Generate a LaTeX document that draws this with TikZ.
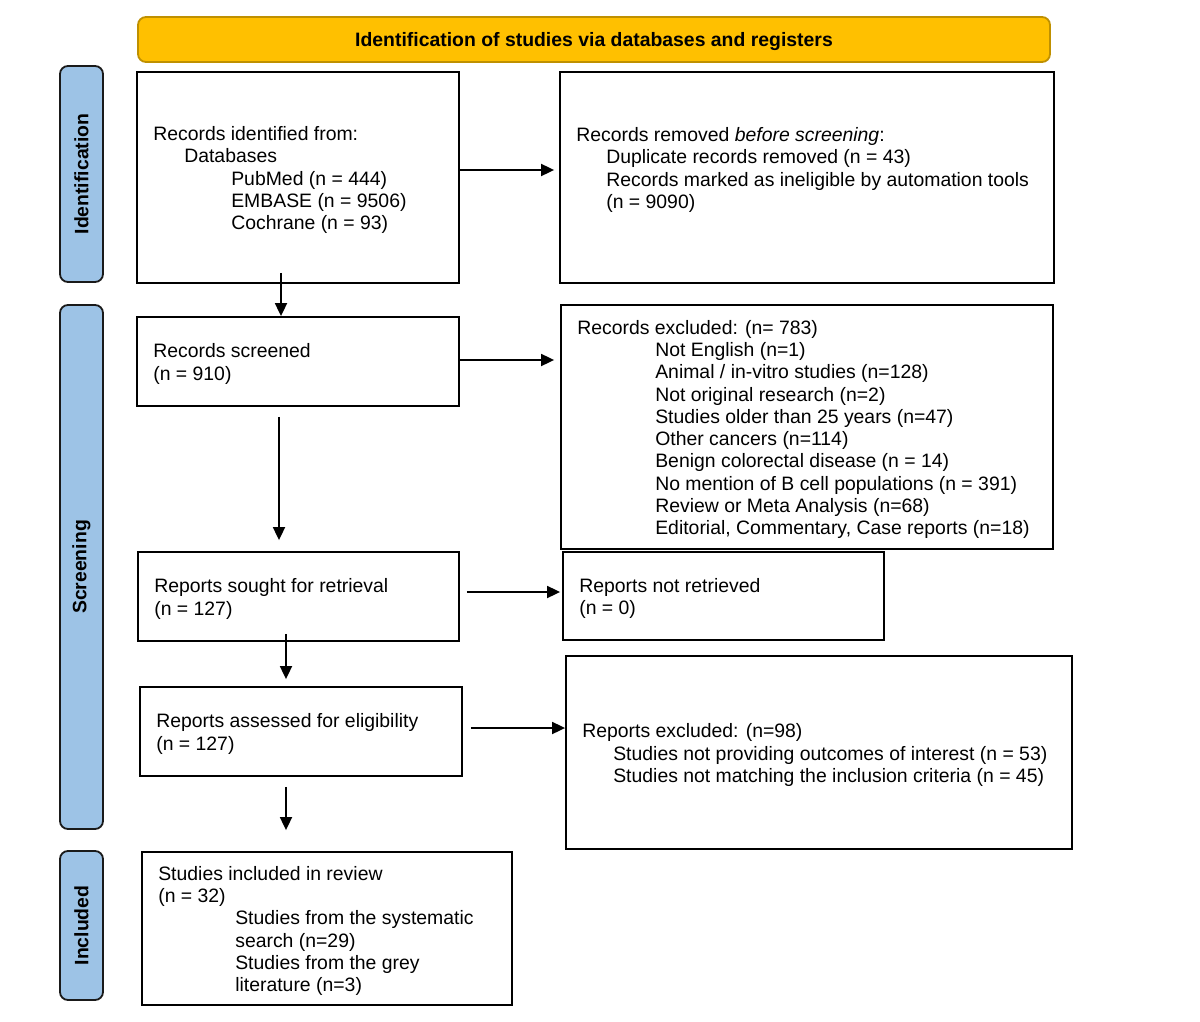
\documentclass[tikz,border=0pt]{standalone}
\usepackage{fontspec}
\setmainfont{Liberation Sans}
\usetikzlibrary{arrows.meta}
\definecolor{bannerfill}{HTML}{FFC000}
\definecolor{bannerdraw}{HTML}{BF9000}
\definecolor{sidefill}{HTML}{9DC3E6}
\definecolor{sidedraw}{HTML}{1A1A1A}
\begin{document}
\begin{tikzpicture}[x=1pt,y=-1pt,
  every node/.style={font=\fontsize{19.4}{22.3}\selectfont},
  box/.style={draw=black,line width=1.8pt,fill=white,inner sep=0pt},
  txt/.style={anchor=west,align=left,inner sep=0pt,yshift=-2.5pt},
  banner/.style={draw=bannerdraw,fill=bannerfill,line width=1.8pt,rounded corners=8pt,inner sep=0pt},
  bantext/.style={inner sep=0pt,font=\fontsize{19.4}{22.3}\selectfont\bfseries},
  side/.style={draw=sidedraw,fill=sidefill,line width=1.8pt,rounded corners=8pt,inner sep=0pt,rotate=90,font=\fontsize{19.4}{22.3}\selectfont\bfseries},
  arr/.style={line width=1.8pt,-{Triangle[length=13pt,width=12pt]}}
]
\useasboundingbox (0,0) rectangle (1200,1022);

% banner
\node[banner,minimum width=912pt,minimum height=45pt] (ban) at (594,39.5) {};
\node[bantext] (bant) at ([yshift=-2.5pt]ban.center) {Identification of studies via databases and registers};

% side bars
\node[side,minimum width=216pt,minimum height=43pt] (sid1) at (81.5,174) {Identification};
\node[side,minimum width=524pt,minimum height=43pt] (sid2) at (81.5,567) {Screening};
\node[side,minimum width=149pt,minimum height=43pt] (sid3) at (81.5,925.5) {Included};

% boxes
\node[box,minimum width=322pt,minimum height=211pt] (b1) at (298,177.5) {};
\node[box,minimum width=494pt,minimum height=211pt] (b2) at (807,177.5) {};
\node[box,minimum width=322pt,minimum height=89pt] (b3) at (298,361.5) {};
\node[box,minimum width=492pt,minimum height=244pt] (b4) at (807,427) {};
\node[box,minimum width=321pt,minimum height=89pt] (b5) at (298.5,596.5) {};
\node[box,minimum width=321pt,minimum height=88pt] (b6) at (723.5,596) {};
\node[box,minimum width=322pt,minimum height=89pt] (b7) at (301,731.5) {};
\node[box,minimum width=506pt,minimum height=193pt] (b8) at (819,752.5) {};
\node[box,minimum width=370pt,minimum height=153pt] (b9) at (327,928.5) {};

% texts
\node[txt] (t1) at ([xshift=17pt]b1.west) {Records identified from:\\
\hspace*{31pt}Databases\\
\hspace*{78pt}PubMed (n = 444)\\
\hspace*{78pt}EMBASE (n = 9506)\\
\hspace*{78pt}Cochrane (n = 93)};

\node[txt] (t2) at ([xshift=17pt,yshift=10pt]b2.west) {Records removed \textit{before screening}:\\
\hspace*{30pt}Duplicate records removed (n = 43)\\
\hspace*{30pt}Records marked as ineligible by automation tools\\
\hspace*{30pt}(n = 9090)};

\node[txt] (t3) at ([xshift=17pt]b3.west) {Records screened\\(n = 910)};

\node[txt] (t4) at ([xshift=17pt]b4.west) {Records excluded: (n= 783)\\
\hspace*{78pt}Not English (n=1)\\
\hspace*{78pt}Animal / in-vitro studies (n=128)\\
\hspace*{78pt}Not original research (n=2)\\
\hspace*{78pt}Studies older than 25 years (n=47)\\
\hspace*{78pt}Other cancers (n=114)\\
\hspace*{78pt}Benign colorectal disease (n = 14)\\
\hspace*{78pt}No mention of B cell populations (n = 391)\\
\hspace*{78pt}Review or Meta Analysis (n=68)\\
\hspace*{78pt}Editorial, Commentary, Case reports (n=18)};

\node[txt] (t5) at ([xshift=17pt]b5.west) {Reports sought for retrieval\\(n = 127)};
\node[txt] (t6) at ([xshift=17pt]b6.west) {Reports not retrieved\\(n = 0)};
\node[txt] (t7) at ([xshift=17pt]b7.west) {Reports assessed for eligibility\\(n = 127)};

\node[txt] (t8) at ([xshift=17pt]b8.west) {Reports excluded: (n=98)\\
\hspace*{31pt}Studies not providing outcomes of interest (n = 53)\\
\hspace*{31pt}Studies not matching the inclusion criteria (n = 45)};

\node[txt] (t9) at ([xshift=17pt]b9.west) {Studies included in review\\
(n = 32)\\
\hspace*{77pt}Studies from the systematic\\
\hspace*{77pt}search (n=29)\\
\hspace*{77pt}Studies from the grey\\
\hspace*{77pt}literature (n=3)};

% horizontal arrows
\draw[arr,shorten >=5pt] ([yshift=7.5pt]b1.east) -- ([yshift=7.5pt]b1.east -| b2.west);
\draw[arr,shorten >=6pt] ([yshift=1.5pt]b3.east) -- ([yshift=1.5pt]b3.east -| b4.west);
\draw[arr,shorten <=7pt,shorten >=2pt] ([yshift=4.5pt]b5.east) -- ([yshift=4.5pt]b5.east -| b6.west);
\draw[arr,shorten <=8pt] ([yshift=3.5pt]b7.east) -- ([yshift=3.5pt]b7.east -| b8.west);

% vertical arrows
\draw[arr,shorten <=-11pt] ([xshift=-17pt]b1.south) -- ([xshift=-17pt]b1.south |- b3.north);
\draw[arr,shorten <=10pt,shorten >=11pt] ([xshift=-19pt]b3.south) -- ([xshift=-19pt]b3.south |- b5.north);
\draw[arr,shorten <=-8pt,shorten >=7pt] ([xshift=-12.5pt]b5.south) -- ([xshift=-12.5pt]b5.south |- b7.north);
\draw[arr,shorten <=10pt,shorten >=21pt] ([xshift=-15pt]b7.south) -- ([xshift=-15pt]b7.south |- b9.north);
\end{tikzpicture}
\end{document}
